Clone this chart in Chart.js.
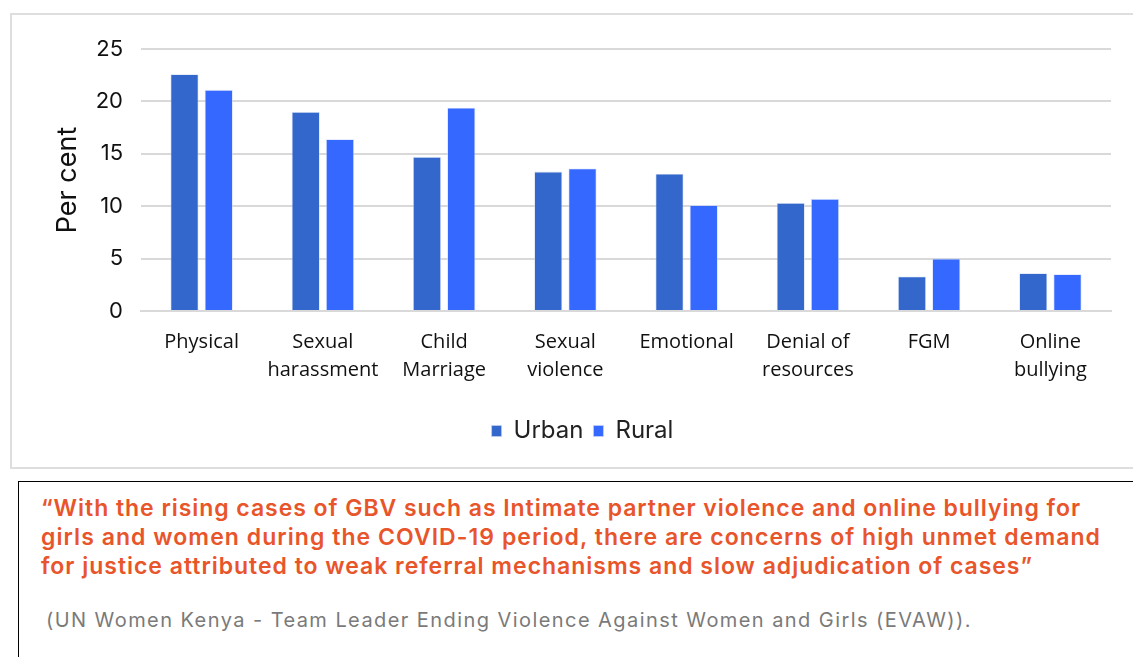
<!DOCTYPE html>
<html>
<head>
<meta charset="utf-8">
<script src="https://cdn.jsdelivr.net/npm/chart.js@4.4.1/dist/chart.umd.min.js"></script>
<style>
  html, body { margin: 0; padding: 0; background: #fff; width: 1133px; height: 657px; overflow: hidden; }
  #chartBox { position: absolute; left: 10px; top: 13px; width: 1140px; height: 452px; border: 2px solid #dedede; }
  #chartWrap { position: absolute; left: 0px; top: 1px; width: 1121px; height: 450px; }
  #quoteBox { position: absolute; left: 18px; top: 481px; width: 1140px; height: 200px; border: 1px solid #000; }
  .q { position: absolute; left: 22px; white-space: nowrap; font-family: "Inter", sans-serif; font-weight: 600; font-size: 23px; line-height: 28px; color: #E8552B; }
  #source { position: absolute; left: 27px; top: 126px; white-space: nowrap; font-family: "Inter", sans-serif; font-size: 20px; line-height: 24px; color: #7a7a7a; }
</style>
</head>
<body>
<div id="chartBox"><div id="chartWrap"><canvas id="c"></canvas></div></div>
<div id="quoteBox">
  <div class="q" style="top:12px" data-w="1040">“With the rising cases of GBV such as Intimate partner violence and online bullying for</div>
  <div class="q" style="top:41px" data-w="1060">girls and women during the COVID-19 period, there are concerns of high unmet demand</div>
  <div class="q" style="top:70px" data-w="992">for justice attributed to weak referral mechanisms and slow adjudication of cases”</div>
  <div id="source" data-w="926">(UN Women Kenya - Team Leader Ending Violence Against Women and Girls (EVAW)).</div>
</div>
<script>
// Stretch each text line to its set width with letter spacing
document.querySelectorAll("[data-w]").forEach(el => {
  const target = +el.dataset.w;
  const natural = el.getBoundingClientRect().width;
  const n = el.textContent.length;
  el.style.letterSpacing = ((target - natural) / n) + "px";
});

// GBV types reported, by residence (per cent)
const categories = [
  "Physical",
  ["Sexual", "harassment"],
  ["Child", "Marriage"],
  ["Sexual", "violence"],
  "Emotional",
  ["Denial of", "resources"],
  "FGM",
  ["Online", "bullying"]
];
const urban = [22.6, 19.0, 14.7, 13.3, 13.1, 10.3, 3.3, 3.6];
const rural = [21.1, 16.4, 19.4, 13.6, 10.1, 10.7, 5.0, 3.5];
const yTicks = [0, 5, 10, 15, 20, 25];

const sans = "Inter";
new Chart(document.getElementById("c"), {
  type: "bar",
  data: {
    labels: categories,
    datasets: [
      { label: "Urban", data: urban, backgroundColor: "#3367CC", borderColor: "rgba(200,212,240,0.8)", borderWidth: 0.8 },
      { label: "Rural", data: rural, backgroundColor: "#3568FF", borderColor: "rgba(200,212,255,0.8)", borderWidth: 0.8 }
    ]
  },
  options: {
    responsive: true,
    maintainAspectRatio: false,
    animation: false,
    layout: { padding: { top: 33, right: 22, bottom: 13, left: 42 } },
    datasets: { bar: { categoryPercentage: 0.565, barPercentage: 0.82 } },
    plugins: {
      legend: {
        position: "bottom",
        labels: {
          boxWidth: 10, boxHeight: 11, padding: 10,
          color: "#222",
          font: { family: sans, size: 24 }
        }
      },
      tooltip: { enabled: false }
    },
    scales: {
      x: {
        grid: { display: false, drawTicks: false },
        border: { display: true, color: "#d9d9d9", width: 2 },
        ticks: {
          color: "#111", padding: 17, maxRotation: 0, autoSkip: false,
          font: { family: "Open Sans", size: 20, lineHeight: 1.4 }
        },
        afterFit: (s) => { s.height = 98; }
      },
      y: {
        min: 0, max: 25,
        afterBuildTicks: (s) => { s.ticks = yTicks.map(v => ({ value: v })); },
        grid: { color: "#d9d9d9", lineWidth: 2, drawTicks: false },
        border: { display: false },
        ticks: { color: "#111", padding: 18, font: { family: sans, size: 22 } },
        title: { display: true, text: "Per cent", color: "#111", font: { family: sans, size: 27, lineHeight: 1 }, padding: { top: 0, bottom: 0 } },
        afterFit: (s) => { s.width = 87; }
      }
    }
  }
});
</script>
</body>
</html>
